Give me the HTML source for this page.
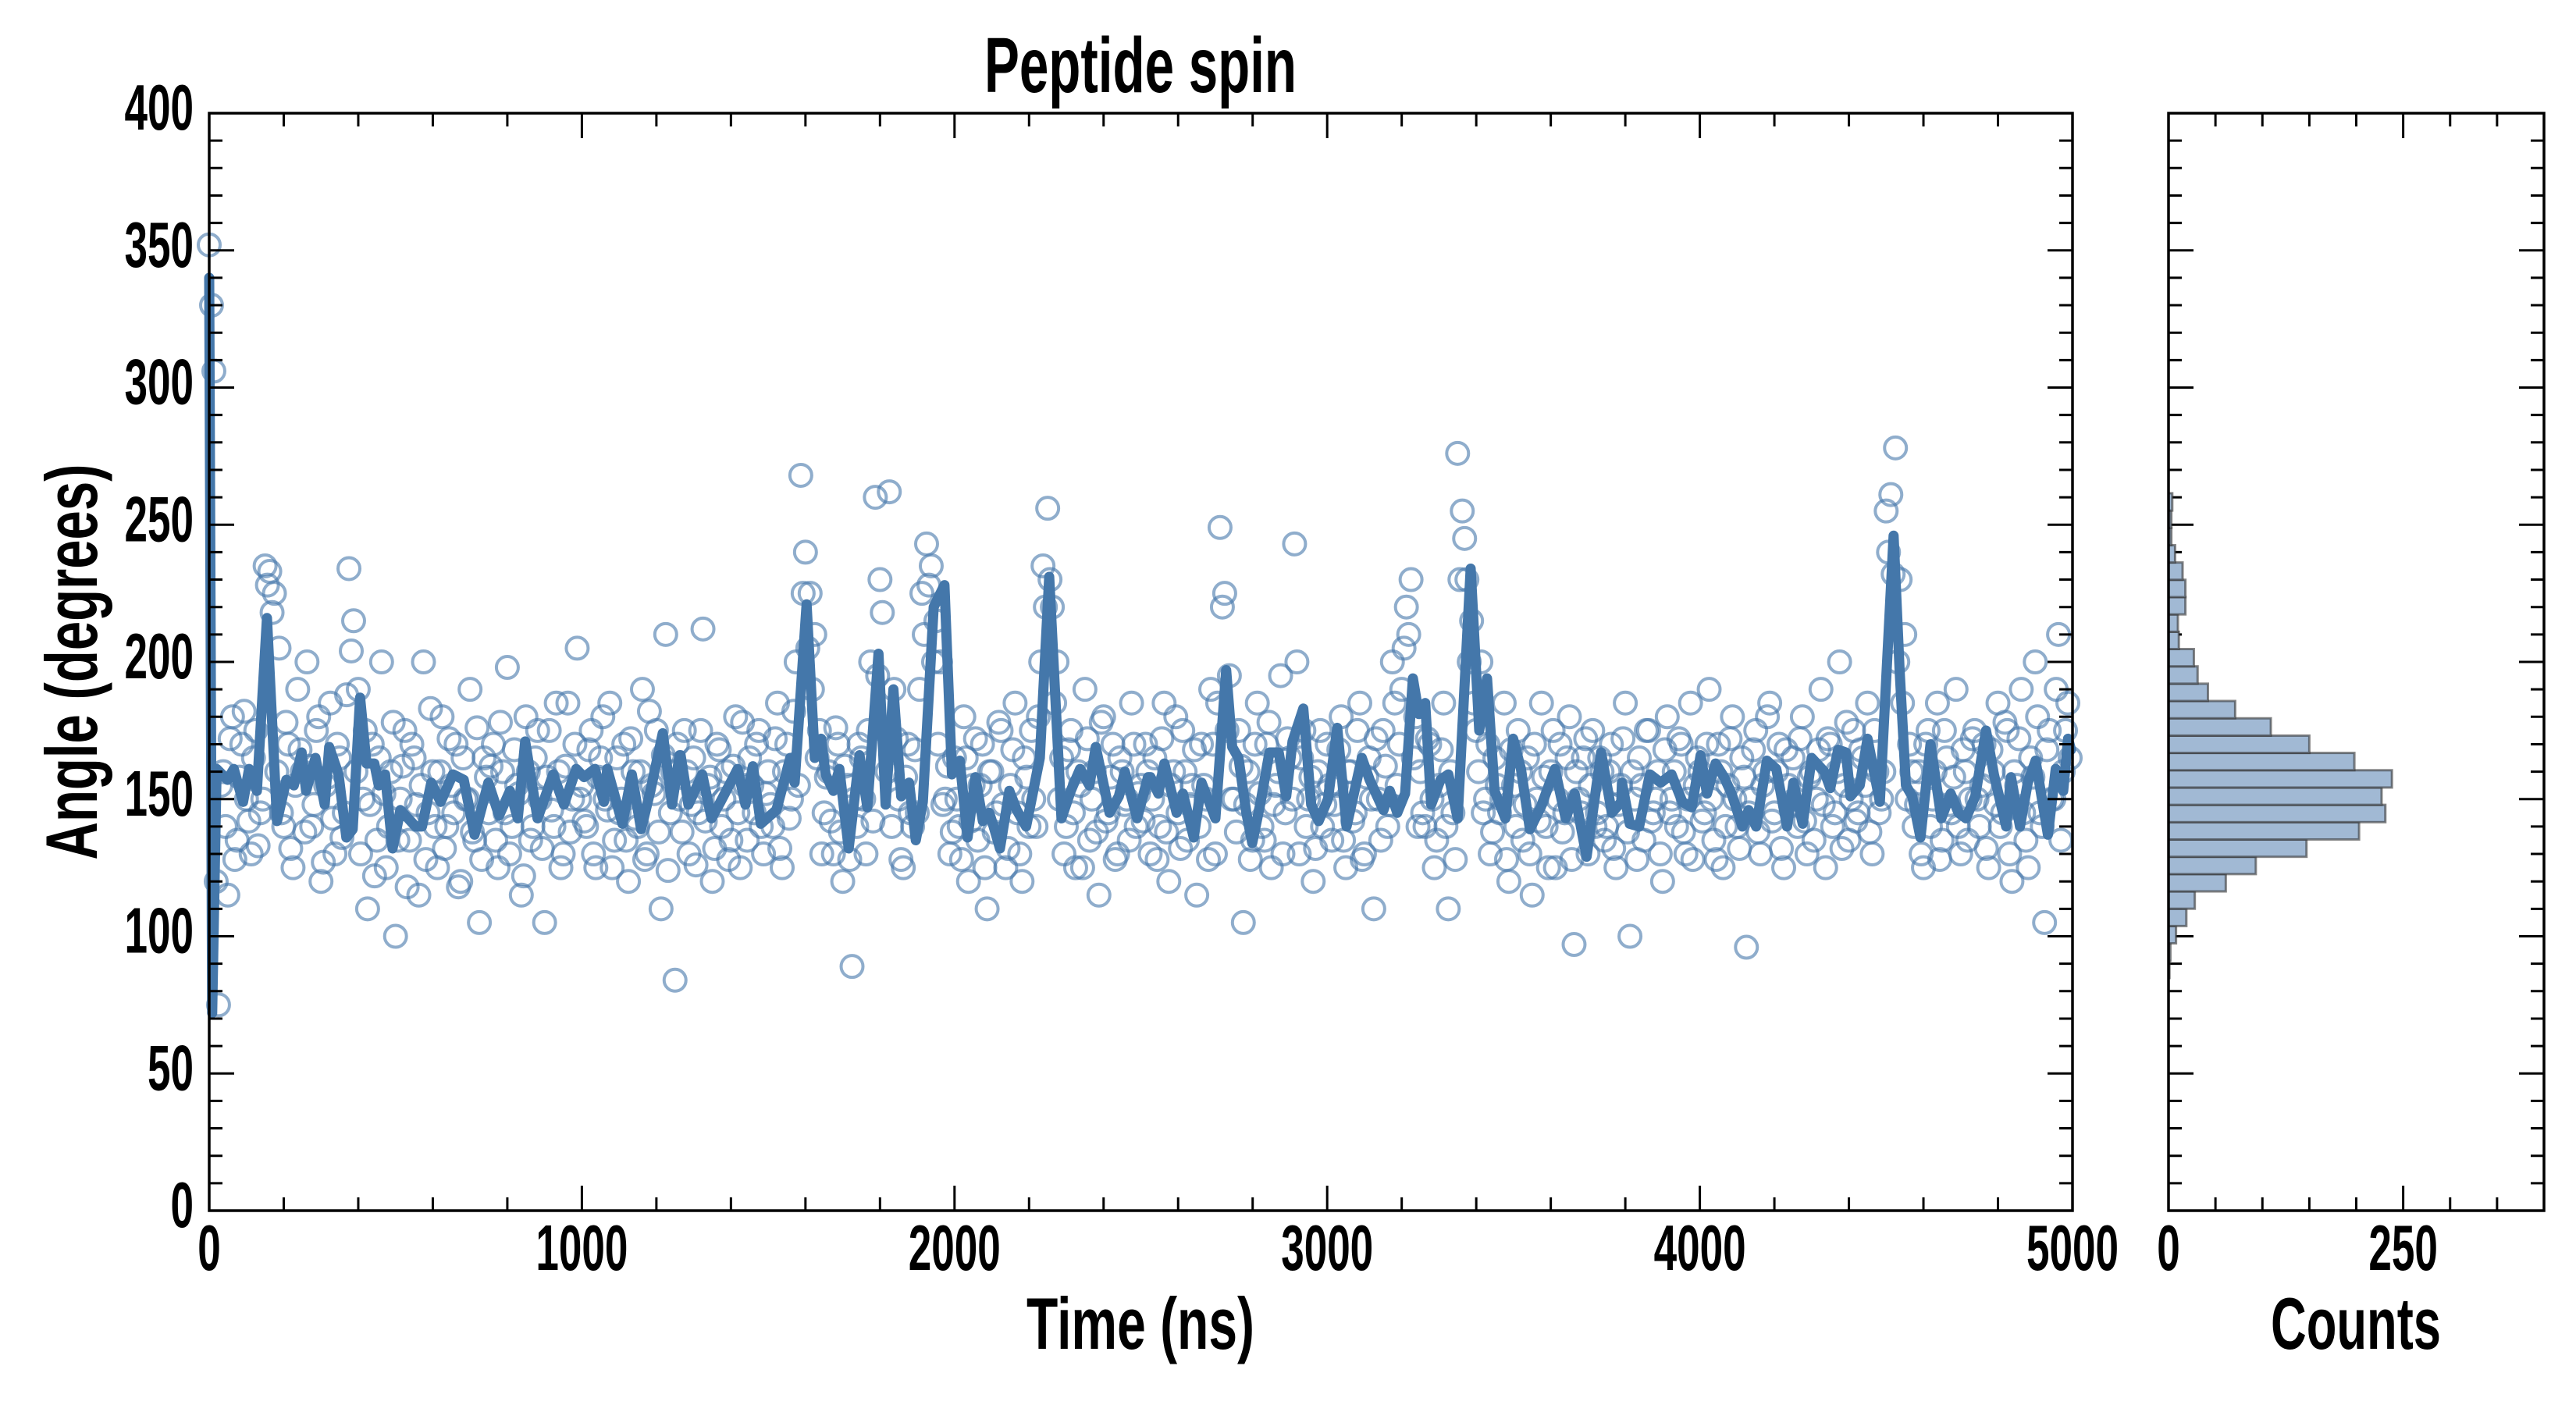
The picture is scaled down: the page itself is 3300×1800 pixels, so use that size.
<!DOCTYPE html>
<html><head><meta charset="utf-8"><title>Peptide spin</title>
<style>html,body{margin:0;padding:0;background:#fff}svg{display:block}text{font-family:"Liberation Sans Narrow","Liberation Sans",sans-serif;font-weight:bold;fill:#000}</style>
</head><body>
<svg id="chart" width="3300" height="1800" viewBox="0 0 3300 1800" xmlns="http://www.w3.org/2000/svg">
<rect x="0" y="0" width="3300" height="1800" fill="#fff"/>
<g id="main"></g>
<g id="hist"></g>
<text x="1461" y="118" font-size="100" text-anchor="middle" textLength="400" lengthAdjust="spacingAndGlyphs">Peptide spin</text>
<text x="1461" y="1728" font-size="94" text-anchor="middle" textLength="292" lengthAdjust="spacingAndGlyphs">Time (ns)</text>
<text x="3018" y="1728" font-size="94" text-anchor="middle" textLength="218" lengthAdjust="spacingAndGlyphs">Counts</text>
<text transform="translate(124,848) rotate(-90)" x="0" y="0" font-size="94" text-anchor="middle" textLength="507" lengthAdjust="spacingAndGlyphs">Angle (degrees)</text>
</svg>
<script>
// ---- data ----
const lineTimes = [0,8,20,49,66,91,107,128,155,182,207,227,248,260,285,310,322,347,368,385,405,422,443,455,472,492,513,554,571,596,621,654,683,712,749,778,807,828,848,881,923,952,985,1006,1035,1059,1068,1109,1134,1159,1184,1217,1242,1262,
1265,1286,1323,1348,1372,1418,1439,1459,1480,1522,1559,1571,1603,1625,1642,1654,1675,1691,1716,1745,1766,1796,1815,1836,1857,1878,1896,1915,1944,1973,1993,2014,2035,2056,2076,2093,2105,2122,2147,2167,2192,2229,2254,2287,2312,2337,2362,2379,2416,2441,2457,2490,2519,
2526,2547,2563,2596,2613,2642,2663,2700,2729,2745,2762,2783,2799,2820,2845,2870,2890,2907,2936,2957,2977,3002,3027,3052,3093,3114,3151,3168,3188,3209,3230,3246,3263,3279,3304,3325,3350,3385,3408,3429,3449,3478,3499,3520,3544,3573,3611,3640,3664,3696,3735,3764,3789,
3791,3812,3837,3866,3895,3924,3953,3978,4002,4019,4042,4065,4085,4114,4131,4151,4180,4205,4234,4251,4276,4300,4334,4350,4371,4392,4404,4429,4450,4483,4520,4536,4553,4570,4592,4619,4648,4673,4694,4714,4739,4768,4789,4822,4835,4859,4880,4901,4934,4955,4975,4988,4996];
const lineAngles = [340,72,161,157,161,149,161,153,216,142,157,155,167,153,165,148,169,159,136,139,187,163,163,155,159,132,146,140,140,156,149,159,157,137,156,144,153,143,171,143,159,148,161,158,161,149,161,141,159,139,153,174,148,166,
166,148,159,143,149,161,148,162,141,146,165,156,221,165,172,159,153,161,132,166,147,203,148,190,151,156,135,149,220,228,159,164,136,158,142,145,140,132,153,146,140,165,231,143,153,161,155,169,145,151,160,143,158,
158,152,163,145,152,136,156,143,197,169,165,145,134,148,167,167,151,171,183,148,142,150,176,140,165,157,146,153,145,152,194,181,185,148,157,159,143,234,175,194,153,143,172,161,139,147,161,143,152,129,167,145,149,
156,141,140,159,156,159,149,147,166,152,163,158,152,140,146,140,164,161,140,156,141,165,160,154,168,167,151,155,172,149,246,197,155,151,136,170,143,152,145,143,151,175,159,140,158,140,156,164,137,161,153,172,168];
const sampleStep = 12.5;
const scatterAngles = [
352,306,75,160,115,180,135,170,150,130,175,145,235,233,225,205,140,170,125,190,
160,200,140,175,120,155,185,130,165,145,234,215,190,150,110,170,135,200,125,160,
100,150,175,135,165,115,200,145,160,125,180,140,155,170,120,150,190,135,105,165,
145,170,125,160,198,140,155,115,180,135,165,150,105,175,140,160,130,185,150,205,
155,140,175,125,165,150,185,135,145,170,120,160,140,190,130,155,175,110,210,145,
84,150,175,130,165,145,212,155,120,170,140,160,135,180,125,155,165,145,175,130,
160,140,185,125,170,150,200,268,240,225,210,175,145,160,130,170,120,155,89,140,
165,130,200,260,230,175,262,190,150,125,170,140,145,225,243,235,215,200,150,130,
165,140,180,120,155,135,170,110,160,145,175,125,155,185,130,165,140,150,180,235,
256,220,200,165,140,175,125,155,190,135,160,115,180,145,170,130,160,150,185,140,
155,170,130,165,140,185,120,160,145,175,135,155,115,170,150,190,130,249,225,195,
150,175,105,160,135,185,140,170,125,155,195,145,165,243,130,175,150,120,160,140,
170,135,155,180,125,160,145,185,130,165,110,150,175,140,200,155,190,220,230,180,
160,140,170,125,155,185,110,145,276,255,230,215,175,200,150,130,165,145,185,120,
155,175,135,165,115,150,185,140,160,125,170,145,180,97,150,165,130,175,145,160,
140,170,125,155,185,100,150,165,135,175,145,160,120,180,150,140,170,130,185,155,
160,145,190,135,170,125,155,180,140,165,96,150,175,130,160,185,145,170,125,155,
165,140,180,130,160,150,190,125,170,145,200,155,135,175,145,165,185,130,160,150,
255,261,278,230,210,170,140,160,125,175,150,185,135,165,145,190,130,160,150,175,
140,170,125,160,185,145,175,120,155,190,135,165,200,145,105,175,150,210,160,185];
const scatterAngles2 = [
330,120,155,140,172,128,158,182,142,165,133,150,228,218,160,145,178,132,155,168,
138,162,148,180,127,158,143,170,136,188,204,160,130,175,148,122,165,152,140,178,
135,162,118,170,148,155,128,183,140,160,132,172,145,118,165,150,138,176,128,158,
162,135,178,145,130,168,152,122,160,140,175,132,158,146,185,125,162,138,170,150,
142,168,130,158,180,146,125,165,150,135,172,143,160,128,182,152,138,166,124,160,
170,138,160,148,126,175,142,158,132,168,150,128,162,145,178,135,155,170,140,152,
148,172,132,160,143,182,155,225,205,190,165,130,158,142,176,138,162,128,150,170,
150,175,142,195,218,160,140,172,128,158,145,168,190,210,228,200,170,148,162,138,
150,128,165,142,172,155,125,160,138,178,148,132,168,145,120,158,175,140,200,220,
230,185,150,130,168,145,160,125,172,150,138,178,142,158,128,165,148,135,170,152,
142,160,150,128,172,138,155,180,132,160,148,168,140,155,128,170,185,220,175,150,
138,162,148,128,170,152,135,178,148,160,130,172,150,200,165,140,158,132,175,148,
155,148,168,135,160,142,175,128,158,150,172,135,162,148,185,170,205,210,165,140,
145,172,150,135,168,140,160,128,230,245,200,185,160,145,170,138,155,150,128,168,
140,160,148,130,170,142,158,125,175,150,138,165,128,160,145,172,155,140,165,135,
160,132,148,172,138,160,128,155,175,142,150,130,168,145,160,172,138,150,128,165,
142,170,150,128,160,140,172,150,132,158,145,168,138,155,180,142,160,132,168,148,
150,172,142,158,135,168,148,172,140,160,132,178,150,142,168,155,138,175,145,160,
240,232,200,185,150,160,148,130,170,140,160,128,175,148,158,140,168,135,172,150,
155,132,168,148,140,178,130,160,172,145,125,158,180,140,168,150,190,135,175,165];
const histBinStart = 84.8;
const histBinWidth = 6.31;
const histCounts = [1,2,8,19,28,61,93,147,203,231,227,238,198,150,109,71,42,31,27,11,10,18,18,15,7,3,3,4];
const xTickLabels = ["0","1000","2000","3000","4000","5000"];
const yTickLabels = ["0","50","100","150","200","250","300","350","400"];
const histTickLabels = ["0","250"];

// ---- layout ----
const NS = "http://www.w3.org/2000/svg";
const P = {l:268, r:2655, t:145, b:1551};
const H = {l:2778, r:3259};
const xMax = 5000, yMax = 400, cMax = 400;
const sx = v => P.l + v/xMax*(P.r-P.l);
const sy = v => P.b - v/yMax*(P.b-P.t);
const sc = v => H.l + v/cMax*(H.r-H.l);
function mk(tag, attrs, parent){const e=document.createElementNS(NS,tag);for(const k in attrs)e.setAttribute(k,attrs[k]);parent.appendChild(e);return e;}
const main = document.getElementById('main');
const hist = document.getElementById('hist');
const BLUE = "#4477aa";

// scatter
const sg = mk('g',{}, main);


function drawScatter(arr, offset){
  arr.forEach((a,i)=>{
    const c = mk('circle',{cx:sx(i*sampleStep+offset),cy:sy(a),r:14,fill:'none',stroke:BLUE,'stroke-width':4,'stroke-opacity':0.6}, sg);
    
    
  });
}
drawScatter(scatterAngles, 0);
drawScatter(scatterAngles2, sampleStep/2);
// line
const pts = lineTimes.map((t,i)=>sx(t).toFixed(1)+','+sy(lineAngles[i]).toFixed(1)).join(' ');
const pl = mk('polyline',{points:pts,fill:'none',stroke:BLUE,'stroke-width':13,'stroke-linejoin':'round','stroke-linecap':'round'}, main);


// frame
const fr = mk('rect',{x:P.l,y:P.t,width:P.r-P.l,height:P.b-P.t,fill:'none',stroke:'#000','stroke-width':3.5}, main);


// ticks main
const tg = mk('g',{stroke:'#000','stroke-width':3}, main);


for(let v=0; v<=xMax; v+=200){const L=(v%1000===0)?32:17;const x=sx(v);
  mk('line',{x1:x,y1:P.b,x2:x,y2:P.b-L},tg);mk('line',{x1:x,y1:P.t,x2:x,y2:P.t+L},tg);}
for(let v=0; v<=yMax; v+=10){const L=(v%50===0)?32:17;const y=sy(v);
  mk('line',{x1:P.l,y1:y,x2:P.l+L,y2:y},tg);mk('line',{x1:P.r,y1:y,x2:P.r-L,y2:y},tg);
  mk('line',{x1:H.l,y1:y,x2:H.l+L,y2:y},tg);mk('line',{x1:H.r,y1:y,x2:H.r-L,y2:y},tg);}
xTickLabels.forEach(s=>{const t=mk('text',{x:sx(+s),y:1627,'font-size':83,'text-anchor':'middle',textLength:29.5*s.length,lengthAdjust:'spacingAndGlyphs'},main);t.textContent=s;
  
  });
yTickLabels.forEach(s=>{const t=mk('text',{x:248,y:sy(+s)+21,'font-size':83,'text-anchor':'end',textLength:29.5*s.length,lengthAdjust:'spacingAndGlyphs'},main);t.textContent=s;
  
  });

// histogram bars
histCounts.forEach((c,i)=>{
  const lo = histBinStart + i*histBinWidth, hi = lo + histBinWidth;
  const r = mk('rect',{x:sc(0),y:sy(hi),width:sc(c)-sc(0),height:sy(lo)-sy(hi),fill:'#a1b9d4',stroke:'#333','stroke-opacity':0.6,'stroke-width':3}, hist);
  
  
});
const hf = mk('rect',{x:H.l,y:P.t,width:H.r-H.l,height:P.b-P.t,fill:'none',stroke:'#000','stroke-width':3.5}, hist);


const htg = mk('g',{stroke:'#000','stroke-width':3}, hist);


for(let v=0; v<=cMax; v+=50){const L=(v%250===0)?32:17;const x=sc(v);
  mk('line',{x1:x,y1:P.b,x2:x,y2:P.b-L},htg);mk('line',{x1:x,y1:P.t,x2:x,y2:P.t+L},htg);}
histTickLabels.forEach(s=>{const t=mk('text',{x:sc(+s),y:1627,'font-size':83,'text-anchor':'middle',textLength:29.5*s.length,lengthAdjust:'spacingAndGlyphs'},hist);t.textContent=s;
  
  });
</script>
</body></html>
